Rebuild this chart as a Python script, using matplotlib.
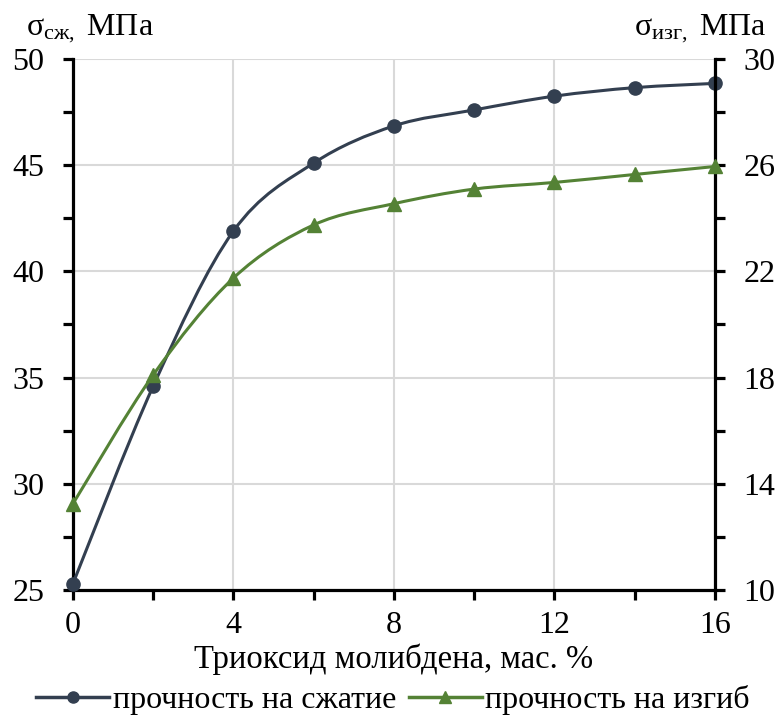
import matplotlib.pyplot as plt
from matplotlib.path import Path
from matplotlib.patches import PathPatch
from matplotlib.lines import Line2D
from matplotlib.ticker import MultipleLocator

plt.rcParams["font.family"] = ["Liberation Serif", "DejaVu Serif"]
plt.rcParams["mathtext.fontset"] = "custom"
plt.rcParams["mathtext.rm"] = "Liberation Serif"
plt.rcParams["mathtext.it"] = "Liberation Serif:italic"

# data
moo3 = [0, 2, 4, 6, 8, 10, 12, 14, 16]
compress = [25.3, 34.6, 41.9, 45.1, 46.85, 47.6, 48.25, 48.65, 48.85]
bending = [13.25, 18.1, 21.75, 23.75, 24.55, 25.1, 25.35, 25.65, 25.95]

dark = "#333f50"
green = "#548235"
grid_c = "#d9d9d9"
fs = 23


def smooth_path(xs, ys):
    # Excel-like smoothed line: cubic Bezier through the points
    pts = list(zip(xs, ys))
    verts = [pts[0]]
    codes = [Path.MOVETO]
    n = len(pts)
    for i in range(n - 1):
        p0 = pts[max(i - 1, 0)]
        p1 = pts[i]
        p2 = pts[i + 1]
        p3 = pts[min(i + 2, n - 1)]
        c1 = (p1[0] + (p2[0] - p0[0]) / 6, p1[1] + (p2[1] - p0[1]) / 6)
        c2 = (p2[0] - (p3[0] - p1[0]) / 6, p2[1] - (p3[1] - p1[1]) / 6)
        verts += [c1, c2, p2]
        codes += [Path.CURVE4] * 3
    return Path(verts, codes)


fig = plt.figure(figsize=(7.78, 7.2), dpi=100)
ax = fig.add_axes([0.0938, 0.1806, 0.8252, 0.7375])
ax2 = ax.twinx()

ax.set_xlim(0, 16)
ax.set_ylim(25, 50)
ax2.set_ylim(10, 30)

ax.xaxis.set_major_locator(MultipleLocator(4))
ax.xaxis.set_minor_locator(MultipleLocator(2))
ax.yaxis.set_major_locator(MultipleLocator(5))
ax.yaxis.set_minor_locator(MultipleLocator(2.5))
ax2.yaxis.set_minor_locator(MultipleLocator(2))
ax2.set_yticks([10, 14, 18, 22, 26, 30])

ax.grid(True, which="major", color=grid_c, linewidth=1.5)
ax.set_axisbelow(True)

for a in (ax, ax2):
    a.spines["top"].set_visible(False)
    for s in ("left", "right", "bottom"):
        a.spines[s].set_linewidth(2.3)
    a.tick_params(which="both", direction="out", length=7.5, width=2.3,
                  labelsize=fs)
ax.tick_params(axis="y", which="both", pad=13)
ax.tick_params(axis="x", which="both", pad=8)
ax2.tick_params(axis="y", which="both", pad=13)
ax.spines["right"].set_visible(False)
ax2.spines["left"].set_visible(False)
ax2.spines["bottom"].set_visible(False)

ax.add_patch(PathPatch(smooth_path(moo3, compress), fill=False,
                       edgecolor=dark, linewidth=2.2, zorder=3))
ax.plot(moo3, compress, linestyle="none", marker="o", markersize=9.5,
        color=dark, zorder=4, clip_on=False)
ax2.add_patch(PathPatch(smooth_path(moo3, bending), fill=False,
                        edgecolor=green, linewidth=2.2, zorder=3))
ax2.plot(moo3, bending, linestyle="none", marker="^", markersize=10,
         color=green, zorder=4, clip_on=False)

ax.set_xlabel("Триоксид молибдена, мас. %", fontsize=fs + 0.5, labelpad=2)

fig.text(0.034, 0.951, r"$\mathrm{σ_{сж,}}$ МПа", fontsize=fs,
         ha="left", va="baseline")
fig.text(0.985, 0.951, r"$\mathrm{σ_{изг,}}$ МПа", fontsize=fs,
         ha="right", va="baseline")

handles = [
    Line2D([], [], color=dark, linewidth=2.5, marker="o", markersize=8),
    Line2D([], [], color=green, linewidth=2.5, marker="^", markersize=8),
]
fig.legend(handles, ["прочность на сжатие", "прочность на изгиб"],
           loc="lower center", bbox_to_anchor=(0.505, -0.02), ncol=2,
           frameon=False, fontsize=fs, handlelength=2.3, handletextpad=0.1,
           columnspacing=0.4, borderaxespad=0.2)

fig.savefig("out.png", dpi=100)
